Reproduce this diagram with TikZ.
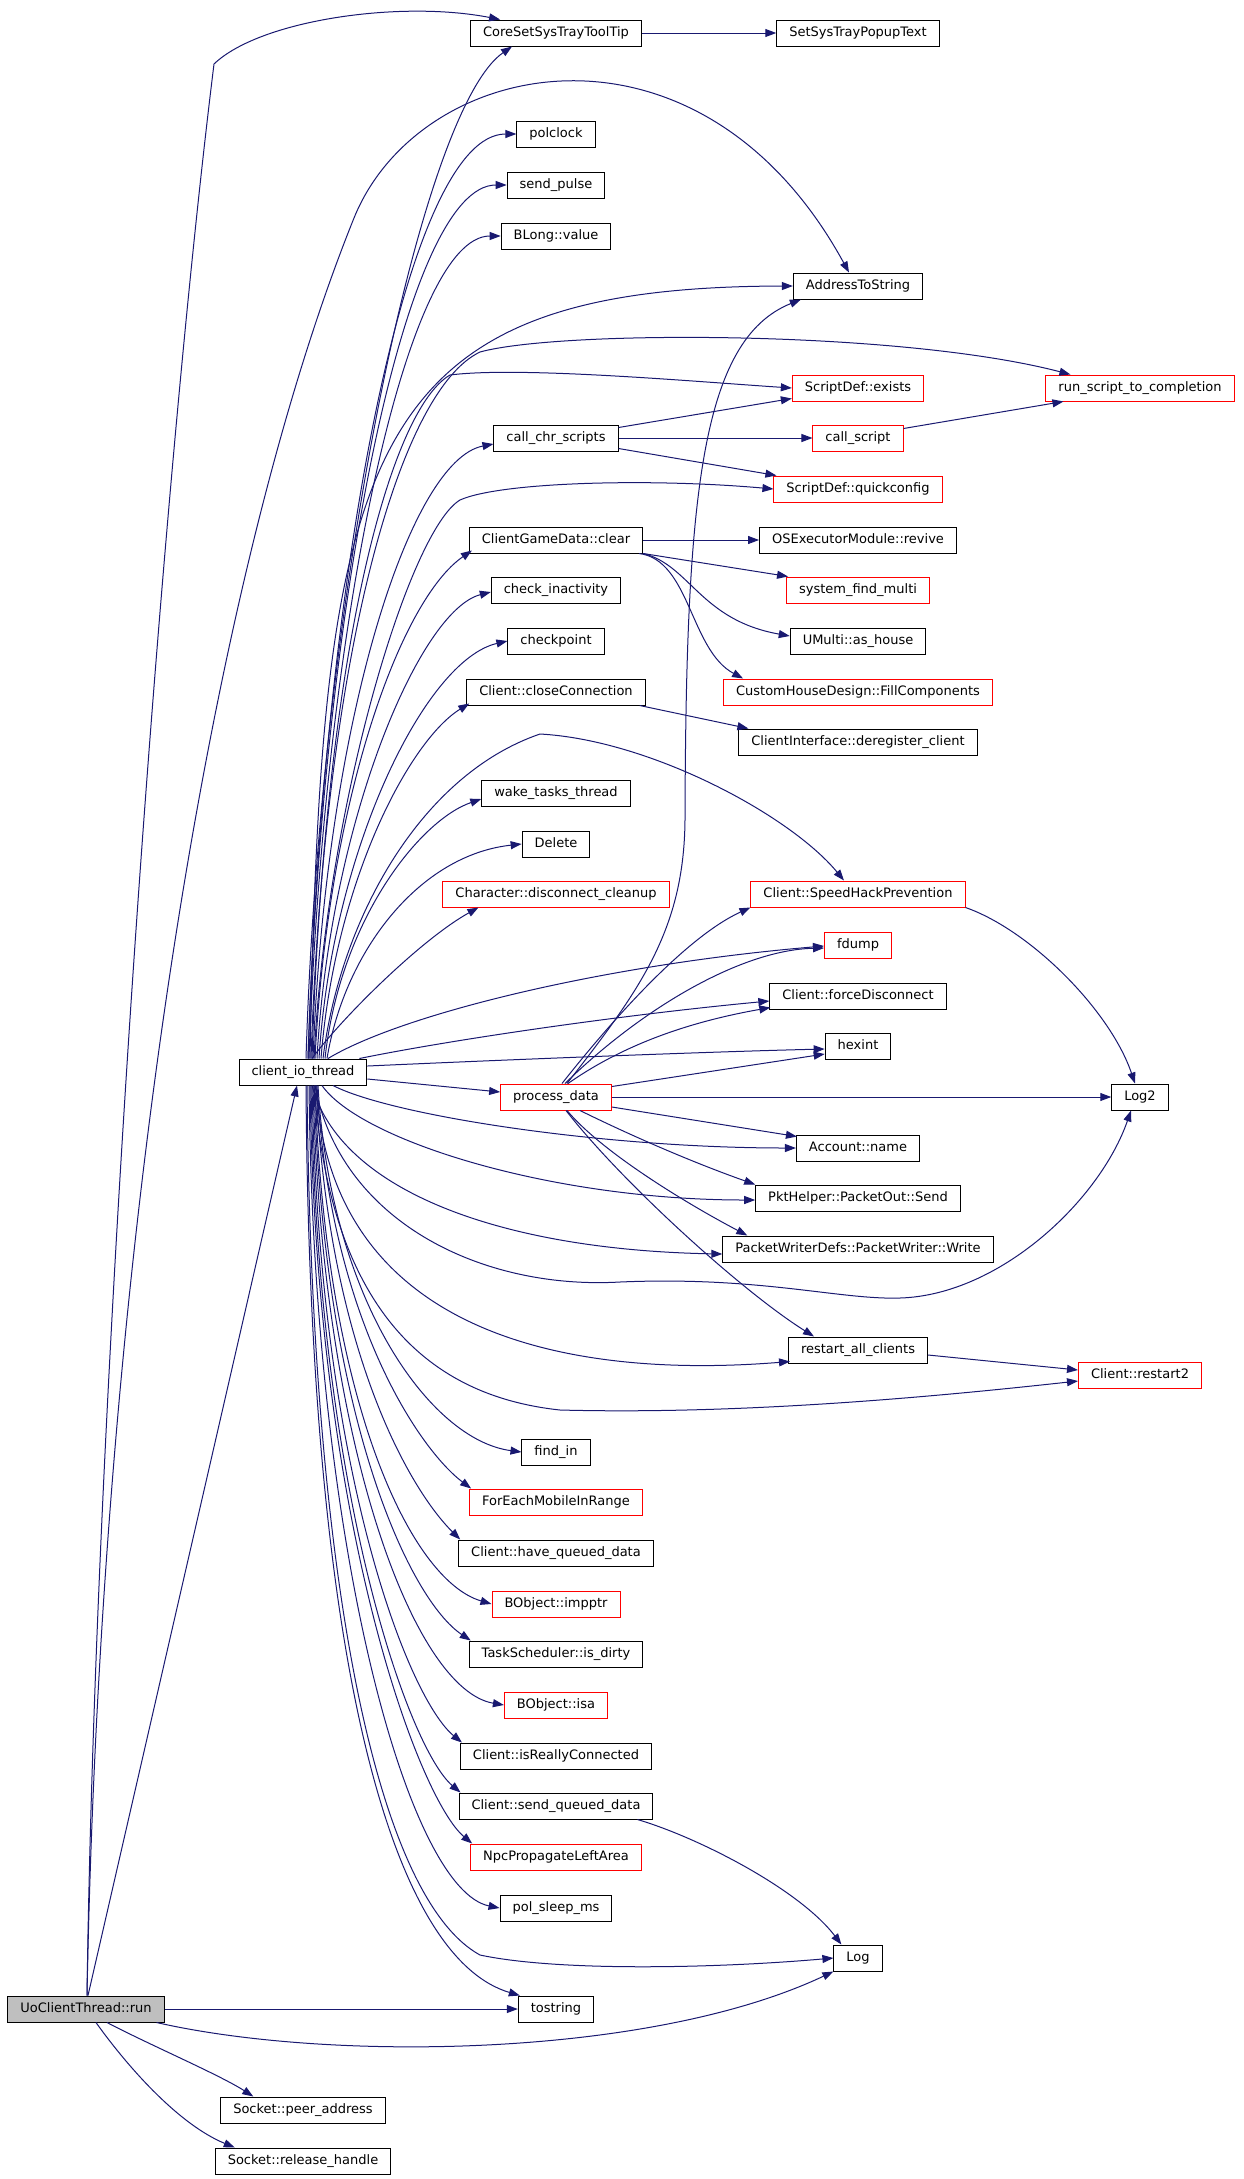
\documentclass[tikz,border=0pt]{standalone}
\usepackage{fontspec}
\newfontfamily\graphfont{DejaVu Sans}
\usetikzlibrary{arrows.meta,positioning}
\definecolor{edgeblue}{RGB}{25,25,112}
\definecolor{rootgray}{RGB}{191,191,191}

\begin{document}
\begin{tikzpicture}[x=1pt, y=-1pt,
    fn/.style={draw=black, fill=white, line width=1pt, rectangle, minimum height=26pt,
               inner xsep=12.5pt, inner ysep=0pt, text height=9.5pt, text depth=2.7pt,
               font=\graphfont\fontsize{13}{15}\selectfont},
    call/.style={draw=edgeblue, line width=1pt, -{Triangle[length=11pt,width=8pt]}}]
    \useasboundingbox (0,0) rectangle (1243,2179);

    % callers
    \node [fn, fill=rootgray] (root) at (86,2009) {UoClientThread::run};
    \node [fn] (client) at (303,1072) {client\_io\_thread};
    \node [fn] (peer) at (303,2110) {Socket::peer\_address};
    \node [fn] (release) at (303,2161) {Socket::release\_handle};

    % second column
    \foreach \nm/\yy/\cl/\txt in {coretip/33/black/CoreSetSysTrayToolTip, polclock/134/black/polclock,
            sendpulse/185/black/send\_pulse, blong/236/black/BLong::value,
            chrscripts/438/black/call\_chr\_scripts, gameclear/540/black/ClientGameData::clear,
            inactivity/590/black/check\_inactivity, checkpoint/641/black/checkpoint,
            closeconn/692/black/Client::closeConnection, waketasks/793/black/wake\_tasks\_thread,
            delete/844/black/Delete, cleanup/894/red/Character::disconnect\_cleanup,
            procdata/1097/red/process\_data, findin/1452/black/find\_in,
            foreach/1502/red/ForEachMobileInRange, havequeued/1553/black/Client::have\_queued\_data,
            impptr/1604/red/BObject::impptr, isdirty/1654/black/TaskScheduler::is\_dirty,
            isa/1705/red/BObject::isa, reallyconn/1756/black/Client::isReallyConnected,
            sendqueued/1806/black/Client::send\_queued\_data, npcleft/1857/red/NpcPropagateLeftArea,
            sleepms/1908/black/pol\_sleep\_ms, tostr/2009/black/tostring}
        \node [fn, draw=\cl] (\nm) at (556,\yy) {\txt};

    % third column
    \foreach \nm/\yy/\cl/\txt in {popup/33/black/SetSysTrayPopupText, addrstr/286/black/AddressToString,
            sexists/388/red/ScriptDef::exists, callscript/438/red/call\_script,
            quickcfg/489/red/ScriptDef::quickconfig, revive/540/black/OSExecutorModule::revive,
            findmulti/590/red/system\_find\_multi, ashouse/641/black/UMulti::as\_house,
            fillcomp/692/red/CustomHouseDesign::FillComponents,
            dereg/742/black/ClientInterface::deregister\_client,
            speedhack/894/red/Client::SpeedHackPrevention, fdump/945/red/fdump,
            forcedisc/996/black/Client::forceDisconnect, hexint/1046/black/hexint,
            accname/1148/black/Account::name, pktsend/1198/black/PktHelper::PacketOut::Send,
            pktwrite/1249/black/PacketWriterDefs::PacketWriter::Write,
            restartall/1350/black/restart\_all\_clients, logfn/1958/black/Log}
        \node [fn, draw=\cl] (\nm) at (858,\yy) {\txt};

    % last column
    \node [fn, draw=red] (runscript) at (1140,388) {run\_script\_to\_completion};
    \node [fn] (logtwo) at (1140,1097) {Log2};
    \node [fn, draw=red] (restarttwo) at (1140,1375) {Client::restart2};

    % from UoClientThread::run
    \draw [call] ([xshift=1pt]root.north) .. controls (95,1400) and (160,500) .. (214,64)
            .. controls (260,20) and (400,0) .. ([xshift=30pt]coretip.north west);
    \draw [call] ([xshift=1pt]root.north) .. controls (100,1300) and (200,600) .. (354,218)
            .. controls (420,55) and (700,0) .. ([xshift=-9pt]addrstr.north);
    \draw [call] ([xshift=2pt]root.north) -- ([xshift=-6pt]client.south);
    \draw [call] (root.east) -- (tostr.west);
    \draw [call] ([xshift=-8pt]root.south east) .. controls (330,2062) and (650,2058) .. (logfn.south west);
    \draw [call] ([xshift=21pt]root.south) .. controls (150,2045) and (220,2075) .. ([xshift=33pt]peer.north west);
    \draw [call] ([xshift=10pt]root.south) .. controls (130,2070) and (180,2125) .. ([xshift=20pt]release.north west);

    % client_io_thread, upwards
    \draw [call] ([xshift=3pt]client.north) .. controls (320,600) and (420,110) .. ([xshift=-44pt]coretip.south);
    \draw [call] ([xshift=5pt]client.north) .. controls (323,580) and (405,134) .. (polclock.west);
    \draw [call] ([xshift=5pt]client.north) .. controls (323,600) and (405,185) .. (sendpulse.west);
    \draw [call] ([xshift=6pt]client.north) .. controls (324,630) and (405,236) .. (blong.west);
    \draw [call] ([xshift=7pt]client.north) .. controls (322,450) and (360,287) .. (addrstr.west);
    \draw [call] ([xshift=8pt]client.north) .. controls (325,650) and (400,390) .. (480,352)
            .. controls (560,330) and (900,330) .. ([xshift=25pt]runscript.north west);
    \draw [call] ([xshift=9pt]client.north) .. controls (325,650) and (390,410) .. (450,375)
            .. controls (520,366) and (700,382) .. (sexists.west);
    \draw [call] ([xshift=10pt]client.north) .. controls (326,720) and (410,460) .. ([yshift=-6pt]chrscripts.west);
    \draw [call] ([xshift=11pt]client.north) .. controls (327,800) and (410,530) .. (460,500)
            .. controls (500,482) and (650,478) .. (quickcfg.west);
    \draw [call] ([xshift=12pt]client.north) .. controls (328,800) and (400,600) .. ([xshift=3pt,yshift=3pt]gameclear.south west);
    \draw [call] ([xshift=14pt]client.north) .. controls (330,820) and (420,610) .. ([yshift=-2pt]inactivity.west);
    \draw [call] ([xshift=16pt]client.north) .. controls (332,850) and (425,660) .. (checkpoint.west);
    \draw [call] ([xshift=18pt]client.north) .. controls (335,880) and (410,740) .. ([xshift=3pt,yshift=2pt]closeconn.south west);
    \draw [call] ([xshift=20pt]client.north) .. controls (340,920) and (420,775) .. (540,734)
            .. controls (650,740) and (790,815) .. ([xshift=-14pt]speedhack.north);
    \draw [call] ([xshift=22pt]client.north) .. controls (340,920) and (420,820) .. ([yshift=-6pt]waketasks.west);
    \draw [call] ([xshift=24pt]client.north) .. controls (345,950) and (420,855) .. (delete.west);
    \draw [call] ([xshift=9pt]client.north) .. controls (340,1020) and (420,940) .. ([xshift=36pt]cleanup.south west);
    \draw [call] ([xshift=25pt]client.north) .. controls (400,1015) and (600,965) .. ([yshift=-1pt]fdump.west);
    \draw [call] ([xshift=-8pt]client.north east) .. controls (450,1040) and (620,1015) .. ([yshift=-5pt]forcedisc.west);
    \draw [call] ([yshift=6pt]client.east) .. controls (500,1060) and (700,1052) .. ([yshift=-3pt]hexint.west);
    \draw [call] ([yshift=-7pt]client.east) -- ([yshift=5pt]procdata.west);

    % client_io_thread, downwards
    \draw [call] ([xshift=30pt]client.south) .. controls (390,1115) and (600,1148) .. (accname.west);
    \draw [call] ([xshift=19pt]client.south) .. controls (360,1140) and (550,1200) .. ([yshift=-2pt]pktsend.west);
    \draw [call] ([xshift=9pt]client.south) .. controls (340,1190) and (500,1250) .. ([yshift=-5pt]pktwrite.west);
    \draw [call] ([xshift=12pt]client.south) .. controls (340,1220) and (480,1290) .. (620,1282)
            .. controls (760,1276) and (840,1300) .. (900,1298)
            .. controls (1000,1295) and (1100,1200) .. ([xshift=-9pt]logtwo.south);
    \draw [call] ([xshift=13pt]client.south) .. controls (330,1330) and (560,1380) .. ([xshift=2pt,yshift=2pt]restartall.south west);
    \draw [call] ([xshift=11pt]client.south) .. controls (330,1300) and (420,1395) .. (560,1410)
            .. controls (750,1415) and (950,1395) .. ([yshift=-6pt]restarttwo.west);
    \draw [call] ([xshift=15pt]client.south) .. controls (330,1300) and (430,1440) .. (findin.west);
    \draw [call] ([xshift=14pt]client.south) .. controls (330,1320) and (420,1450) .. ([xshift=2pt]foreach.north west);
    \draw [call] ([xshift=13pt]client.south) .. controls (328,1350) and (410,1490) .. ([xshift=2pt]havequeued.north west);
    \draw [call] ([xshift=12pt]client.south) .. controls (325,1400) and (410,1580) .. (impptr.west);
    \draw [call] ([xshift=11pt]client.south) .. controls (324,1420) and (410,1600) .. ([xshift=2pt]isdirty.north west);
    \draw [call] ([xshift=10pt]client.south) .. controls (322,1450) and (415,1690) .. (isa.west);
    \draw [call] ([xshift=9pt]client.south) .. controls (320,1480) and (410,1700) .. ([xshift=2pt]reallyconn.north west);
    \draw [call] ([xshift=8pt]client.south) .. controls (318,1500) and (410,1750) .. ([xshift=2pt]sendqueued.north west);
    \draw [call] ([xshift=7pt]client.south) .. controls (316,1530) and (420,1800) .. ([xshift=2pt]npcleft.north west);
    \draw [call] ([xshift=6pt]client.south) .. controls (314,1560) and (410,1890) .. (sleepms.west);
    \draw [call] ([xshift=4pt]client.south) .. controls (312,1600) and (380,1900) .. (480,1955)
            .. controls (560,1972) and (720,1968) .. (logfn.west);
    \draw [call] ([xshift=3pt]client.south) .. controls (310,1700) and (400,1960) .. ([xshift=2pt]tostr.north west);

    % process_data
    \draw [call] ([xshift=11pt]procdata.north) .. controls (640,990) and (684,930) .. (685,820)
            .. controls (686,500) and (700,340) .. ([xshift=8pt]addrstr.south west);
    \draw [call] ([xshift=6pt]procdata.north) .. controls (620,1010) and (690,935) .. (speedhack.south west);
    \draw [call] ([xshift=9pt]procdata.north) .. controls (640,1010) and (740,950) .. ([yshift=-3pt]fdump.west);
    \draw [call] ([xshift=12pt]procdata.north) .. controls (630,1040) and (700,1020) .. ([xshift=1pt,yshift=2pt]forcedisc.south west);
    \draw [call] ([yshift=-3pt]procdata.north east) -- ([yshift=-8pt]hexint.west);
    \draw [call] (procdata.east) -- (logtwo.west);
    \draw [call] ([yshift=-10pt]procdata.east) -- ([xshift=1pt,yshift=-2pt]accname.north west);
    \draw [call] ([xshift=24pt]procdata.south) .. controls (640,1140) and (700,1165) .. (pktsend.north west);
    \draw [call] ([xshift=11pt]procdata.south) .. controls (600,1150) and (680,1200) .. ([xshift=25pt]pktwrite.north west);
    \draw [call] ([xshift=10pt]procdata.south) .. controls (620,1180) and (740,1290) .. ([xshift=26pt]restartall.north west);

    % the rest
    \draw [call] (coretip) -- (popup);
    \draw [call] ([yshift=-3pt]chrscripts.north east) -- ([yshift=3pt]sexists.south west);
    \draw [call] (chrscripts) -- (callscript);
    \draw [call] ([yshift=3pt]chrscripts.south east) -- ([xshift=3pt]quickcfg.north west);
    \draw [call] ([yshift=-4pt]callscript.north east) -- ([xshift=18pt]runscript.south west);
    \draw [call] (gameclear) -- (revive);
    \draw [call] (gameclear.south east) -- ([xshift=2pt]findmulti.north west);
    \draw [call] (gameclear.south east) .. controls (690,565) and (700,620) .. ([yshift=5pt]ashouse.west);
    \draw [call] ([xshift=-4pt]gameclear.south east) .. controls (690,560) and (690,650) .. ([xshift=20pt]fillcomp.north west);
    \draw [call] ([xshift=-6pt]closeconn.south east) -- ([xshift=10pt]dereg.north west);
    \draw [call] (speedhack.south east) .. controls (1030,930) and (1110,1010) .. ([xshift=-5pt]logtwo.north);
    \draw [call] ([yshift=-5pt]restartall.east) -- ([yshift=5pt]restarttwo.west);
    \draw [call] ([xshift=-16pt]sendqueued.south east) .. controls (700,1838) and (800,1890) .. ([xshift=8pt]logfn.north west);
\end{tikzpicture}
\end{document}
